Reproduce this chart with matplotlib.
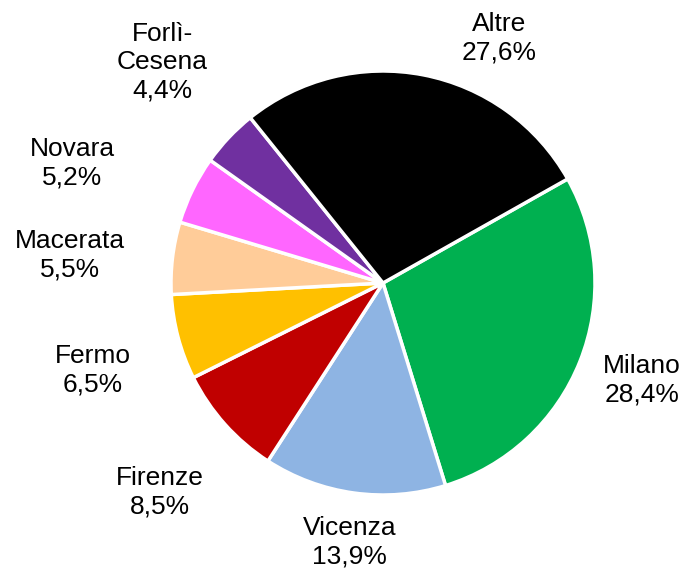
import matplotlib
matplotlib.use("Agg")
import matplotlib.pyplot as plt

categories = ["Milano", "Vicenza", "Firenze", "Fermo", "Macerata", "Novara", "Forlì-\nCesena", "Altre"]
shares = [28.4, 13.9, 8.5, 6.5, 5.5, 5.2, 4.4, 27.6]
colors = ["#00B050", "#8EB4E3", "#C00000", "#FFC000", "#FFCC99", "#FF66FF", "#7030A0", "#000000"]

# label anchor positions (in units of pie radius)
label_pos = [(1.222, -0.458), (-0.156, -1.222), (-1.052, -0.986), (-1.368, -0.410),
             (-1.476, 0.132), (-1.467, 0.566), (-1.042, 1.042), (0.547, 1.156)]

plt.rcParams['font.family'] = ['Liberation Sans', 'DejaVu Sans']

W, H = 686, 568
cx, cy, R = 383, 283, 212
fig = plt.figure(figsize=(W / 100, H / 100), dpi=100)
ax = fig.add_axes([0, 0, 1, 1])
ax.pie(shares, colors=colors, startangle=29.4, counterclock=False,
       wedgeprops=dict(edgecolor="white", linewidth=2.5))
for name, val, (x, y) in zip(categories, shares, label_pos):
    ax.text(x, y, f"{name}\n{val:.1f}%".replace(".", ","), ha="center", va="center",
            fontsize=19, linespacing=1.22, color="black")
ax.set_aspect('auto')
ax.set_xlim(-cx / R, (W - cx) / R)
ax.set_ylim(-(H - cy) / R, cy / R)
ax.axis('off')
fig.savefig("out.png", dpi=100)
